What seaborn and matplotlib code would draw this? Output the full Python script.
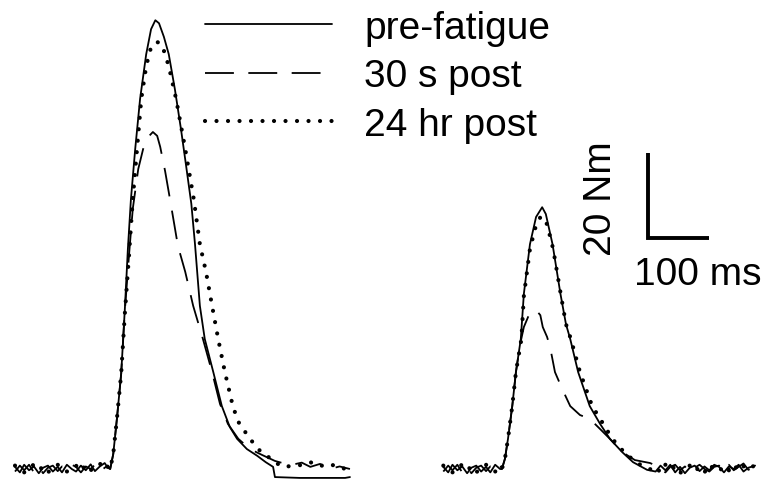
import matplotlib
matplotlib.use('Agg')
import matplotlib.pyplot as plt
import pandas as pd
import seaborn as sns

sns.set_style('white')
plt.rcParams['font.family'] = ['Liberation Sans', 'DejaVu Sans']
plt.rcParams['text.color'] = 'black'

# flat-baseline jitter of the three recordings (Nm)
noise_a = [0.5, -0.8, 1.0, -0.3, 0.6, -1.0, 0.3, 0.8, -0.6, 0.5, -0.8,
           1.0, 0.0, -0.6, 0.8, -0.3, 1.1, -0.5, 0.6, 1.4, 0.3]
noise_b = [-0.6, 0.8, -0.3, 1.0, -0.8, 0.5, -1.0, 0.3, 0.8, -0.5, 0.6,
           -0.3, 1.0, 0.5, -0.8, 0.6, 0.0, 1.0, -0.6, 0.3, 0.8]
noise_c = [0.8, 0.0, -0.8, 0.5, 1.0, -0.3, 0.6, -0.8, 0.3, 1.0, 0.0,
           -0.6, 0.5, 0.8, -0.5, 1.0, -0.3, 0.5, 1.3, -0.2, 0.6]

# ---- first twitch (ms, Nm)
left_base_t = [0, 8, 15, 23, 31, 39, 46, 54, 62, 70, 77, 85, 93, 100,
               108, 116, 124, 131, 139, 147, 152]

pre1_t = [156, 161, 167, 174, 180, 185, 190, 197, 205, 215, 223, 230,
          236, 244, 252, 262, 272, 280, 289, 295, 303, 311, 325, 339,
          352, 364, 380, 397, 411, 423, 426, 467, 500, 541, 549]
pre1_f = [0.0, 3.5, 11.8, 22.4, 37.6, 51.8, 63.5, 75.3, 87.1, 97.6, 103.5, 105.6,
          104.9, 101.7, 97.6, 89.4, 80.0, 71.8, 62.4, 52.9, 38.4, 30.6, 22.8, 14.8,
          9.9, 7.1, 4.7, 3.1, 1.6, 0.5, -1.9, -2.1, -2.1, -2.1, -1.9]

post30_1_t = [156, 161, 167, 174, 180, 187, 193, 202, 210, 218, 226,
              233, 238, 246, 254, 261, 267, 279, 292, 308, 323, 336, 349,
              366, 385, 405, 426, 451, 470, 484, 500, 516, 532, 549]
post30_1_f = [0.0, 3.5, 11.8, 22.4, 37.2, 50.6, 61.2, 70.6, 75.3, 78.1, 79.3,
              78.4, 75.8, 70.1, 63.5, 57.6, 52.5, 46.4, 38.4, 30.6, 22.8, 15.3, 10.6,
              7.1, 4.7, 3.3, 1.9, 0.9, 1.5, 0.5, 1.2, 0.0, 0.6, 0.0]

post24_1_t = [156, 161, 167, 174, 180, 187, 193, 200, 207, 215, 223, 233,
              241, 252, 264, 279, 293, 303, 313, 323, 333, 344, 357, 366,
              385, 402, 413, 426, 439, 467, 484, 500, 516, 533, 549]
post24_1_f = [0.0, 3.5, 11.8, 22.4, 36.5, 50.6, 63.5, 75.3, 87.1, 94.8, 99.3, 100.5,
              99.8, 94.8, 87.1, 75.3, 63.5, 52.9, 46.4, 38.4, 30.6, 22.8, 14.8, 11.1,
              7.1, 4.2, 3.1, 1.6, 0.5, 0.9, 1.6, 0.7, 1.2, 0.2, 0.0]

# ---- second twitch (ms, Nm)
right_base_t = [702, 710, 717, 725, 733, 741, 748, 756, 764, 772, 779, 787, 795]
right_tail_t = [1050, 1058, 1066, 1074, 1082, 1090, 1098, 1106, 1114, 1122, 1130,
                1138, 1146, 1154, 1162, 1170, 1178, 1186, 1194, 1202, 1213]

pre2_t = [798, 803, 808, 815, 821, 829, 834, 844, 854, 864,
          870, 881, 894, 903, 910, 923, 942, 959, 975, 995, 1013, 1036]
pre2_f = [0.0, 2.4, 7.1, 14.8, 22.8, 30.6, 41.2, 52.9, 59.3, 61.6,
          60.0, 52.9, 41.2, 34.1, 30.6, 22.8, 14.8, 10.6, 7.1, 4.0, 1.6, -0.2]

post30_2_t = [798, 803, 808, 815, 821, 828, 834, 841, 847, 854,
              861, 865, 872, 877, 885, 897, 910, 926, 942, 959, 975, 995,
              1016, 1041]
post30_2_f = [0.0, 2.4, 7.1, 14.8, 22.8, 29.4, 33.4, 35.8, 37.2, 37.4,
              36.2, 33.4, 31.1, 28.7, 22.8, 18.8, 14.8, 12.7, 11.8, 9.4, 7.1, 4.0,
              2.1, 1.4]

post24_2_t = [798, 803, 808, 815, 821, 830, 834, 844, 854, 862,
              872, 882, 895, 903, 911, 926, 946, 962, 979, 995, 1011, 1028, 1044]
post24_2_f = [0.0, 2.4, 7.1, 14.8, 22.8, 30.6, 40.7, 51.8, 57.4, 59.5,
              57.6, 51.8, 40.7, 34.1, 30.6, 22.8, 14.8, 11.1, 7.1, 4.5, 2.4, 0.7, -0.2]

conditions = ['pre-fatigue', '30 s post', '24 hr post']

# scale bar
scale_ms = 100
scale_nm = 20
bar_corner = (1037, 54.3)

rows = []
series = {
    'pre-fatigue': [(left_base_t + pre1_t, noise_a + pre1_f),
                    (right_base_t + pre2_t + right_tail_t, noise_a[:13] + pre2_f + noise_b)],
    '30 s post': [(left_base_t + post30_1_t, noise_b + post30_1_f),
                  (right_base_t + post30_2_t + right_tail_t, noise_b[:13] + post30_2_f + noise_c)],
    '24 hr post': [(left_base_t + post24_1_t, noise_c + post24_1_f),
                   (right_base_t + post24_2_t + right_tail_t, noise_c[:13] + post24_2_f + noise_a)],
}
for cond, twitches in series.items():
    for k, (t, f) in enumerate(twitches):
        for ti, fi in zip(t, f):
            rows.append({'condition': cond, 'twitch': k, 'time': ti, 'torque': fi})
df = pd.DataFrame(rows)

styles = {
    'pre-fatigue': dict(linewidth=1.3, linestyle='-'),
    '30 s post': dict(linewidth=1.3, linestyle=(0, (16, 8))),
    '24 hr post': dict(linewidth=3.0, linestyle=(0, (0.01, 2.75)), dash_capstyle='round'),
}

fig = plt.figure(figsize=(7.69, 4.85), dpi=100)
ax = fig.add_axes([0, 0, 1, 1])

for cond in conditions:
    for k in [0, 1]:
        d = df[(df['condition'] == cond) & (df['twitch'] == k)]
        sns.lineplot(data=d, x='time', y='torque', ax=ax, color='black',
                     sort=False, estimator=None,
                     label=cond if k == 0 else None, **styles[cond])

ax.set_xlim(-24.6, 1235.8)
ax.set_ylim(-3.53, 110.6)
ax.axis('off')

leg = ax.legend(loc='upper left', bbox_to_anchor=(205 / 769, 0.978), frameon=False,
                fontsize=28, handlelength=3.27, handletextpad=0.82,
                labelspacing=0.32, borderpad=0, borderaxespad=0)

# scale bar
x0, y0 = bar_corner
ax.plot([x0, x0, x0 + scale_ms], [y0 + scale_nm, y0, y0], color='black',
        lw=2.8, solid_capstyle='butt', solid_joinstyle='miter')
ax.text(x0 - 77, y0 + 9.5, f'{scale_nm} Nm', rotation=90, ha='center', va='center', fontsize=28)
ax.text(x0 + 82, y0 - 8.5, f'{scale_ms} ms', ha='center', va='center', fontsize=28)

fig.savefig('out.png', dpi=100)
